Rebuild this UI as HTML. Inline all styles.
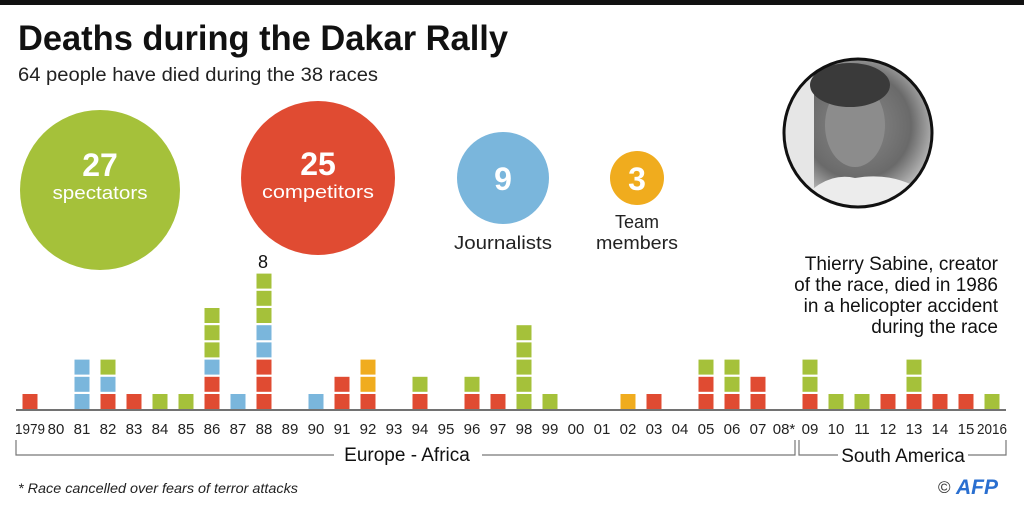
<!DOCTYPE html>
<html><head><meta charset="utf-8"><style>
html,body{margin:0;padding:0;background:#fff;}
svg{display:block;font-family:"Liberation Sans",sans-serif;}
</style></head><body>
<svg width="1024" height="510" viewBox="0 0 1024 510" xmlns="http://www.w3.org/2000/svg">
<rect x="0" y="0" width="1024" height="5" fill="#111"/>
<text x="18" y="50" font-size="35" font-weight="bold" fill="#111" textLength="490" lengthAdjust="spacingAndGlyphs">Deaths during the Dakar Rally</text>
<text x="18" y="81" font-size="19" fill="#222" textLength="360" lengthAdjust="spacingAndGlyphs">64 people have died during the 38 races</text>

<circle cx="100" cy="190" r="80" fill="#a5c13a"/>
<text x="100" y="176" font-size="32" font-weight="bold" fill="#fff" text-anchor="middle">27</text>
<text x="100" y="199" font-size="18" fill="#fff" text-anchor="middle" textLength="95" lengthAdjust="spacingAndGlyphs">spectators</text>
<circle cx="318" cy="178" r="77" fill="#e04b32"/>
<text x="318" y="175" font-size="32" font-weight="bold" fill="#fff" text-anchor="middle">25</text>
<text x="318" y="198" font-size="18" fill="#fff" text-anchor="middle" textLength="112" lengthAdjust="spacingAndGlyphs">competitors</text>
<circle cx="503" cy="178" r="46" fill="#7ab6dc"/>
<text x="503" y="190" font-size="32" font-weight="bold" fill="#fff" text-anchor="middle">9</text>
<text x="503" y="249" font-size="18" fill="#222" text-anchor="middle" textLength="98" lengthAdjust="spacingAndGlyphs">Journalists</text>
<circle cx="637" cy="178" r="27" fill="#f0ac1e"/>
<text x="637" y="190" font-size="32" font-weight="bold" fill="#fff" text-anchor="middle">3</text>
<text x="637" y="228" font-size="18" fill="#222" text-anchor="middle">Team</text>
<text x="637" y="249" font-size="18" fill="#222" text-anchor="middle" textLength="82" lengthAdjust="spacingAndGlyphs">members</text>

<defs><radialGradient id="ph" cx="0.5" cy="0.45" r="0.6">
<stop offset="0" stop-color="#8a8a8a"/><stop offset="0.6" stop-color="#6a6a6a"/><stop offset="1" stop-color="#d8d8d8"/></radialGradient>
<clipPath id="pc"><circle cx="858" cy="133" r="74"/></clipPath></defs>
<circle cx="858" cy="133" r="74" fill="url(#ph)"/>
<g clip-path="url(#pc)">
<rect x="784" y="59" width="30" height="150" fill="#e6e6e6"/>
<ellipse cx="855" cy="125" rx="30" ry="42" fill="#8c8c8c"/>
<ellipse cx="850" cy="85" rx="40" ry="22" fill="#3a3a3a"/>
<path d="M790 215 Q820 170 855 178 Q900 170 935 200 L935 215Z" fill="#ececec"/>
</g>
<circle cx="858" cy="133" r="74" fill="none" stroke="#111" stroke-width="3"/>

<g font-size="19" fill="#111" text-anchor="end">
<text x="998" y="270">Thierry Sabine, creator</text>
<text x="998" y="291">of the race, died in 1986</text>
<text x="998" y="312">in a helicopter accident</text>
<text x="998" y="333">during the race</text>
</g>

<g id="bars"></g>
<text x="263" y="268" font-size="18" fill="#111" text-anchor="middle">8</text>
<line x1="16" y1="410" x2="1006" y2="410" stroke="#444" stroke-width="1.5"/>
<g id="labels" font-size="15" fill="#222" text-anchor="middle"></g>

<path d="M16 440 V455 H334 M482 455 H795 V440 M799 440 V455 H838 M968 455 H1006 V440" fill="none" stroke="#777" stroke-width="1.2"/>
<text x="407" y="461" font-size="19" fill="#111" text-anchor="middle">Europe - Africa</text>
<text x="903" y="462" font-size="19" fill="#111" text-anchor="middle">South America</text>

<text x="18" y="493" font-size="14" font-style="italic" fill="#222" textLength="280" lengthAdjust="spacingAndGlyphs">* Race cancelled over fears of terror attacks</text>
<text x="938" y="493" font-size="17" fill="#333">©</text>
<text x="956" y="494" font-size="21" font-weight="bold" font-style="italic" fill="#2a6fd0">AFP</text>
</svg>
<script>
var data=["R","","BBB","RBG","R","G","G","RRBGGG","B","RRRBBGGG","","B","RR","ROO","","RG","","RG","R","GGGGG","G","","","O","R","","RRG","RGG","RR","","RGG","G","G","R","RGG","R","R","G"];
var col={R:"#e04b32",G:"#a5c13a",B:"#7ab6dc",O:"#f0ac1e"};
var ns="http://www.w3.org/2000/svg";
var g=document.getElementById("bars"),L=document.getElementById("labels");
for(var i=0;i<38;i++){
 var cx=30+i*26;
 for(var j=0;j<data[i].length;j++){
  var r=document.createElementNS(ns,"rect");
  r.setAttribute("x",cx-7.5);r.setAttribute("y",394-j*17.2);
  r.setAttribute("width",15);r.setAttribute("height",15);
  r.setAttribute("fill",col[data[i][j]]);g.appendChild(r);
 }
 var y=1979+i, s;
 if(i==0) s="1979"; else if(i==37) s="2016"; else s=String(y%100).padStart(2,"0");
 if(i==29) s="08*";
 var t=document.createElementNS(ns,"text");
 t.setAttribute("x",cx);t.setAttribute("y",434);t.textContent=s;
 if(s.length==4){t.setAttribute("textLength","30");t.setAttribute("lengthAdjust","spacingAndGlyphs");}
 L.appendChild(t);
}
</script>
</body></html>
